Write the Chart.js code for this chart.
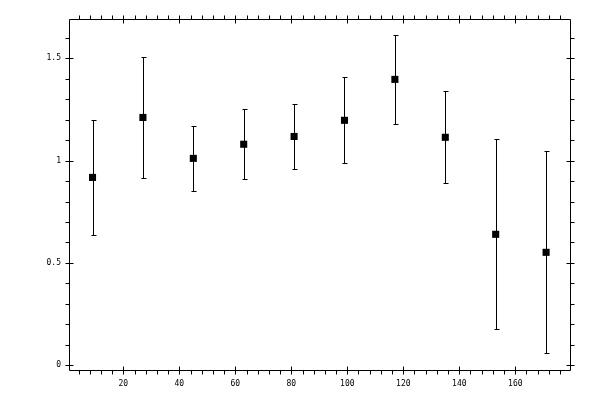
<!DOCTYPE html>
<html>
<head>
<meta charset="utf-8">
<script src="https://cdn.jsdelivr.net/npm/chart.js@4.4.0/dist/chart.umd.min.js"></script>
<style>
  html, body { margin: 0; padding: 0; background: #fff; }
  #wrap { width: 600px; height: 400px; }
</style>
</head>
<body>
<div id="wrap"><canvas id="myChart" width="600" height="400"></canvas></div>
<script>
var xValues = [9, 27, 45, 63, 81, 99, 117, 135, 153, 171];
var yValues = [0.918, 1.211, 1.011, 1.080, 1.118, 1.197, 1.397, 1.114, 0.640, 0.552];
var yErrors = [0.280, 0.294, 0.160, 0.170, 0.158, 0.210, 0.216, 0.224, 0.464, 0.493];
var xLabelTicks = [20, 40, 60, 80, 100, 120, 140, 160];
var yLabelTicks = [0, 0.5, 1, 1.5];

function isLabelTick(list, v) {
  for (var i = 0; i < list.length; i++) {
    if (Math.abs(list[i] - v) < 1e-6) return true;
  }
  return false;
}

// error bars, drawn from the data through the scales
var errorBars = {
  id: 'errorBars',
  beforeDatasetsDraw: function(chart) {
    var c = chart.ctx, xs = chart.scales.x, ys = chart.scales.y;
    c.save();
    c.strokeStyle = '#000';
    c.lineWidth = 1;
    c.beginPath();
    for (var i = 0; i < xValues.length; i++) {
      var px = Math.round(xs.getPixelForValue(xValues[i])) + 0.5;
      var top = Math.round(ys.getPixelForValue(yValues[i] + yErrors[i])) + 0.5;
      var bot = Math.round(ys.getPixelForValue(yValues[i] - yErrors[i])) + 0.5;
      c.moveTo(px, top); c.lineTo(px, bot);
      c.moveTo(px - 2, top); c.lineTo(px + 3, top);
      c.moveTo(px - 2, bot); c.lineTo(px + 3, bot);
    }
    c.stroke();
    c.restore();
  }
};

// box frame with ticks on all four sides
var frame = {
  id: 'frame',
  afterDraw: function(chart) {
    var c = chart.ctx, a = chart.chartArea;
    var xs = chart.scales.x, ys = chart.scales.y;
    var L = Math.round(a.left) + 0.5, R = Math.round(a.right) - 0.5;
    var T = Math.round(a.top) + 0.5, B = Math.round(a.bottom) + 0.5;
    c.save();
    c.strokeStyle = '#000';
    c.lineWidth = 1;
    c.beginPath();
    c.rect(L, T, R - L, B - T);
    xs.ticks.forEach(function(t) {
      var px = Math.round(xs.getPixelForValue(t.value)) + 0.5;
      if (px < L || px > R) return;
      var major = isLabelTick(xLabelTicks, t.value);
      c.moveTo(px, B + 4); c.lineTo(px, major ? B - 4 : B);
      c.moveTo(px, T - 4); c.lineTo(px, major ? T + 4 : T);
    });
    ys.ticks.forEach(function(t) {
      var py = Math.round(ys.getPixelForValue(t.value)) + 0.5;
      if (py < T || py > B) return;
      var major = isLabelTick(yLabelTicks, t.value);
      c.moveTo(L - 4, py); c.lineTo(major ? L + 4 : L, py);
      c.moveTo(R + 4, py); c.lineTo(major ? R - 4 : R, py);
    });
    c.stroke();
    c.restore();
  }
};

Chart.defaults.font.family = '"DejaVu Sans Mono", monospace';
Chart.defaults.font.size = 8;
Chart.defaults.color = '#000';

var ctx = document.getElementById("myChart");
var myChart = new Chart(ctx, {
  type: 'scatter',
  data: {
    datasets: [{
      data: xValues.map(function(x, i) { return { x: x, y: yValues[i] }; }),
      pointStyle: 'rect',
      pointRadius: 5,
      backgroundColor: '#000',
      borderWidth: 0
    }]
  },
  options: {
    responsive: false,
    animation: false,
    events: [],
    layout: { padding: { top: 19, right: 29, left: 0, bottom: 0 } },
    plugins: { legend: { display: false }, tooltip: { enabled: false } },
    scales: {
      x: {
        type: 'linear',
        min: 0.6,
        max: 179.9,
        grid: { display: false, drawTicks: false },
        border: { display: false },
        afterFit: function(s) { s.height = 30; },
        ticks: {
          stepSize: 4,
          includeBounds: false,
          autoSkip: false,
          maxRotation: 0,
          padding: 9,
          callback: function(v) { return isLabelTick(xLabelTicks, v) ? String(v) : ''; }
        }
      },
      y: {
        min: -0.023,
        max: 1.692,
        grid: { display: false, drawTicks: false },
        border: { display: false },
        afterFit: function(s) { s.width = 69; },
        ticks: {
          stepSize: 0.1,
          includeBounds: false,
          autoSkip: false,
          padding: 8,
          callback: function(v) {
            return isLabelTick(yLabelTicks, v) ? String(Math.round(v * 10) / 10) : '';
          }
        }
      }
    }
  },
  plugins: [errorBars, frame]
});
</script>
</body>
</html>
